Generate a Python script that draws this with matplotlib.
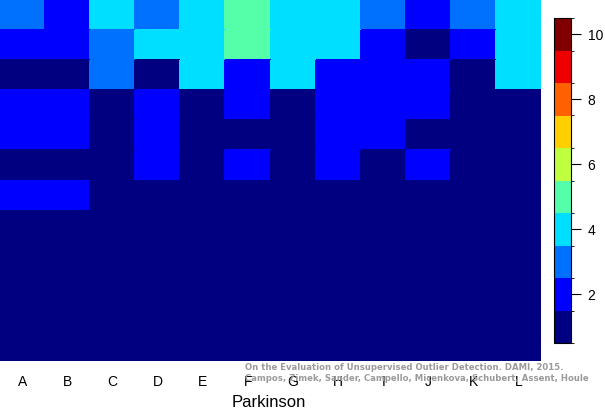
import numpy as np
import matplotlib
matplotlib.use("Agg")
import matplotlib.pyplot as plt
from matplotlib.colors import ListedColormap, BoundaryNorm

columns = ["A", "B", "C", "D", "E", "F", "G", "H", "I", "J", "K", "L"]
# rows listed top to bottom
grid = [
    [3, 2, 4, 3, 4, 5, 4, 4, 3, 2, 3, 4],
    [2, 2, 3, 4, 4, 5, 4, 4, 2, 1, 2, 4],
    [1, 1, 3, 1, 4, 2, 4, 2, 2, 2, 1, 4],
    [2, 2, 1, 2, 1, 2, 1, 2, 2, 2, 1, 1],
    [2, 2, 1, 2, 1, 1, 1, 2, 2, 1, 1, 1],
    [1, 1, 1, 2, 1, 2, 1, 2, 1, 2, 1, 1],
    [2, 2, 1, 1, 1, 1, 1, 1, 1, 1, 1, 1],
    [1, 1, 1, 1, 1, 1, 1, 1, 1, 1, 1, 1],
    [1, 1, 1, 1, 1, 1, 1, 1, 1, 1, 1, 1],
    [1, 1, 1, 1, 1, 1, 1, 1, 1, 1, 1, 1],
    [1, 1, 1, 1, 1, 1, 1, 1, 1, 1, 1, 1],
    [1, 1, 1, 1, 1, 1, 1, 1, 1, 1, 1, 1],
]
cbar_ticks = [2, 4, 6, 8, 10]
xlabel = "Parkinson"
credit = ["On the Evaluation of Unsupervised Outlier Detection. DAMI, 2015.",
          "Campos, Zimek, Sander, Campello, Micenkova, Schubert, Assent, Houle"]

palette = ["#000080", "#0000FF", "#0070FF", "#00DFFF", "#55FFAA",
           "#BFFF40", "#FFCF00", "#FF6000", "#EF0000", "#800000"]
cmap = ListedColormap(palette)
norm = BoundaryNorm(np.arange(0.5, 11.5, 1.0), cmap.N)

plt.rcParams["font.family"] = ["Liberation Sans", "DejaVu Sans"]
W, H = 605, 413
fig = plt.figure(figsize=(W / 100, H / 100), dpi=100)

ax = fig.add_axes([0, 1 - 361 / H, 541 / W, 361 / H])
data = np.array(grid, dtype=float)
ax.pcolormesh(np.arange(len(columns) + 1), np.arange(data.shape[0] + 1), data,
              cmap=cmap, norm=norm, edgecolors="face", linewidth=0.3)
ax.set_xlim(0, len(columns))
ax.set_ylim(data.shape[0], 0)
ax.set_xticks(np.arange(len(columns)) + 0.5)
ax.set_xticklabels(columns, fontsize=10)
ax.tick_params(axis="x", length=0, pad=10)
ax.set_yticks([])
for s in ax.spines.values():
    s.set_visible(False)

fig.text(269 / W, (H - 407) / H, xlabel, ha="center", va="baseline", fontsize=12)

cax = fig.add_axes([554 / W, (H - 343) / H, 17 / W, 325 / H])
sm = matplotlib.cm.ScalarMappable(norm=norm, cmap=cmap)
cb = fig.colorbar(sm, cax=cax, ticks=cbar_ticks)
cb.outline.set_linewidth(0.8)
cax.tick_params(length=7, width=0.8, pad=5, labelsize=10)

fig.text(245 / W, (H - 368) / H, credit[0], ha="left", va="center",
         fontsize=6.1, fontweight="bold", color="#9a9a9a", family="DejaVu Sans")
fig.text(245 / W, (H - 378.5) / H, credit[1], ha="left", va="center",
         fontsize=6.1, fontweight="bold", color="#9a9a9a", family="DejaVu Sans")

fig.savefig("out.png", dpi=100)
